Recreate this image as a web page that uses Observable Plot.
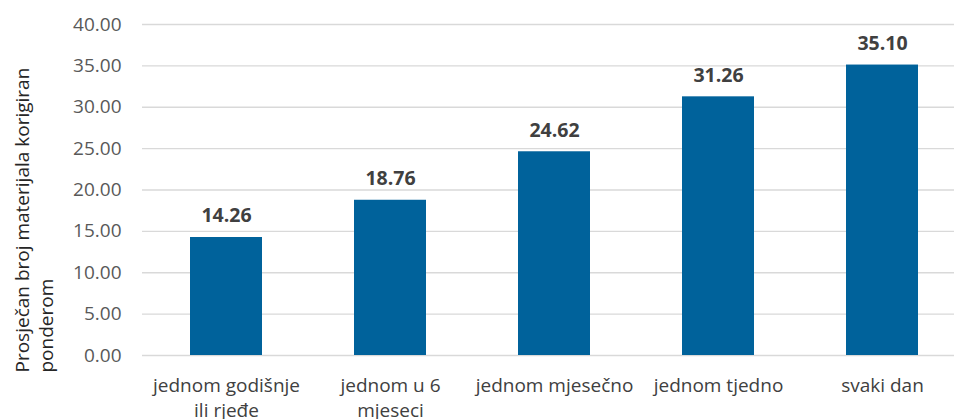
<!DOCTYPE html>
<html><head><meta charset="utf-8">
<script src="https://cdn.jsdelivr.net/npm/d3@7"></script>
<script src="https://cdn.jsdelivr.net/npm/@observablehq/plot@0.6"></script>
<style>html,body{margin:0;padding:0;background:#fff;overflow:hidden} svg{display:block}</style>
</head><body><div id="chart"></div><script>
const categories = ["jednom godišnje ili rjeđe", "jednom u 6 mjeseci", "jednom mjesečno", "jednom tjedno", "svaki dan"];
const tickLabels = ["jednom godišnje\nili rjeđe", "jednom u 6\nmjeseci", "jednom mjesečno", "jednom tjedno", "svaki dan"];
const values = [14.26, 18.76, 24.62, 31.26, 35.10];
const yTicks = [0, 5, 10, 15, 20, 25, 30, 35, 40];
const yTitle = ["Prosječan broj materijala korigiran\nponderom"];

const data = categories.map((c, i) => ({c, v: values[i]}));
const labelOf = new Map(categories.map((c, i) => [c, tickLabels[i]]));

const chart = Plot.plot({
  width: 954, height: 419,
  marginLeft: 142, marginRight: 0, marginTop: 24, marginBottom: 64,
  style: {fontFamily: "'Open Sans', sans-serif", fontSize: "19px", background: "#fff"},
  x: {domain: categories, range: [141.65, 965.6], paddingInner: 0.563, paddingOuter: 0.2815, label: null},
  y: {domain: [0, 40], label: null},
  marks: [
    Plot.ruleY(yTicks, {stroke: "#d9d9d9", strokeWidth: 1.3}),
    Plot.barY(data, {x: "c", y: "v", fill: "#00629b"}),
    Plot.text(data, {x: "c", y: "v", text: d => d.v.toFixed(2), dy: -15, lineAnchor: "bottom",
      fontWeight: "bold", fill: "#404040", fontSize: 19.5}),
    Plot.axisY({ticks: yTicks, tickSize: 0, tickPadding: 21, tickFormat: d => d.toFixed(2),
      fill: "#595959", fontSize: 19, label: null}),
    Plot.axisX({tickSize: 0, tickPadding: 19, tickFormat: d => labelOf.get(d),
      fill: "#404040", fontSize: 19, lineHeight: 1.3, label: null}),
    Plot.text(yTitle, {text: d => d, frameAnchor: "bottom-left", rotate: -90, textAnchor: "start",
      lineAnchor: "middle", lineHeight: 1.25, dx: -109, dy: 17, fill: "#262626", fontSize: 19})
  ]
});
document.getElementById("chart").appendChild(chart);
</script></body></html>
